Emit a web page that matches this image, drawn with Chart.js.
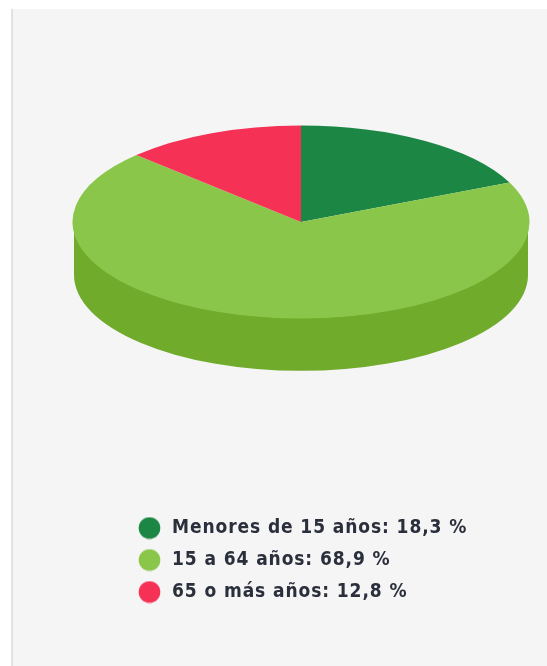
<!DOCTYPE html>
<html lang="es">
<head>
<meta charset="utf-8">
<script src="https://cdn.jsdelivr.net/npm/chart.js@4"></script>
<style>
html,body{margin:0;padding:0;background:#fff;overflow:hidden}
#panel{position:absolute;left:11px;top:9px;width:536px;height:657px;background:#f5f5f5;border-left:2px solid #e2e2e2;box-sizing:border-box}
#wrap{position:absolute;left:0;top:0;width:547px;height:666px}
</style>
</head>
<body>
<div id="panel"></div>
<div id="wrap"><canvas id="c"></canvas></div>
<script>
const categories = ['Menores de 15 años', '15 a 64 años', '65 o más años'];
const values = [18.3, 68.9, 12.8];
const topColors = ['#1c8744', '#8ac64a', '#f53155'];
const sideColors = ['#146a34', '#70ab2c', '#c4203f'];

const TILT = 0.422, DEPTH = 53, SIDE_RADIUS = 227, LEGEND_DX = 68.5, LEGEND_DY = 61.5, SPACING = '0.9px';
const TEXT_COLOR = '#2b2f3c';

function dot(color) {
  const s = 23, cv = document.createElement('canvas');
  cv.width = s; cv.height = s;
  const x = cv.getContext('2d');
  x.fillStyle = color;
  x.beginPath(); x.arc(s / 2, s / 2, 10.8, 0, Math.PI * 2); x.fill();
  return cv;
}

const tiltPlugin = {
  id: 'tilt',
  beforeLayout(chart) { chart.ctx.letterSpacing = SPACING; },
  beforeDraw(chart) { chart.ctx.letterSpacing = SPACING; },
  afterLayout(chart) {
    const l = chart.legend;
    l.left += LEGEND_DX; l.right += LEGEND_DX;
    l.top += LEGEND_DY; l.bottom += LEGEND_DY;
  },
  beforeDatasetsDraw(chart) {
    const ctx = chart.ctx, arcs = chart.getDatasetMeta(0).data;
    const cx = arcs[0].x, cy = arcs[0].y;
    ctx.save();
    ctx.translate(cx, cy);
    ctx.scale(1, TILT);
    const d = DEPTH / TILT;
    arcs.forEach((a, i) => {
      // Only the front half of the rim (canvas angles 0..PI) is visible.
      for (const k of [0, 2]) {
        const s = Math.max(a.startAngle, k * Math.PI), e = Math.min(a.endAngle, (k + 1) * Math.PI);
        if (e <= s) continue;
        ctx.beginPath();
        ctx.arc(0, 0, SIDE_RADIUS, s, e);
        ctx.arc(0, d, SIDE_RADIUS, e, s, true);
        ctx.closePath();
        ctx.fillStyle = sideColors[i];
        ctx.fill();
      }
    });
    ctx.translate(-cx, -cy);
  },
  afterDatasetsDraw(chart) { chart.ctx.restore(); }
};

new Chart(document.getElementById('c'), {
  type: 'pie',
  data: {
    labels: categories,
    datasets: [{ data: values, backgroundColor: topColors, borderWidth: 0, clip: false, radius: 228.5 }]
  },
  plugins: [tiltPlugin],
  options: {
    responsive: true,
    maintainAspectRatio: false,
    animation: false,
    layout: { padding: { left: 55, top: 0, right: 0, bottom: 116 } },
    plugins: {
      tooltip: { enabled: false },
      legend: {
        position: 'bottom',
        align: 'start',
        labels: {
          font: { family: '"DejaVu Sans Condensed","DejaVu Sans"', size: 19, weight: 'bold' },
          color: TEXT_COLOR,
          usePointStyle: true,
          pointStyleWidth: 26,
          padding: 13,
          generateLabels(chart) {
            return categories.map((c, i) => ({
              text: c + ': ' + values[i].toFixed(1).replace('.', ',') + ' %',
              fontColor: TEXT_COLOR,
              fillStyle: topColors[i], strokeStyle: topColors[i], lineWidth: 0,
              pointStyle: dot(topColors[i]), index: i, hidden: false
            }));
          }
        }
      }
    }
  }
});
</script>
</body>
</html>
